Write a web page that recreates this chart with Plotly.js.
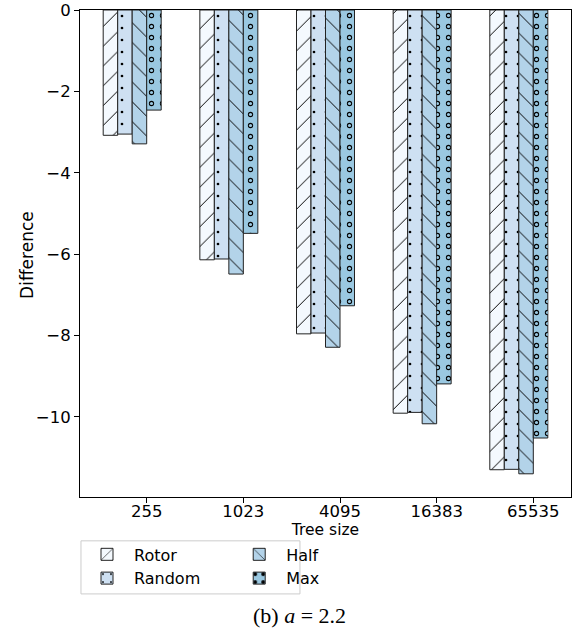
<!DOCTYPE html>
<html>
<head>
<meta charset="utf-8">
<script src="https://cdn.plot.ly/plotly-3.0.1.min.js"></script>
<style>html,body{margin:0;padding:0;background:#fff;}#chart{width:576px;height:635px;}</style>
</head>
<body>
<div id="chart"></div>
<script>
// ---- data ----
const treeSizes = ['255', '1023', '4095', '16383', '65535'];
const groupIndex = [0, 1, 2, 3, 4];
const rotor  = [-3.08, -6.14, -7.96, -9.91, -11.30];
const random = [-3.05, -6.12, -7.94, -9.89, -11.29];
const half   = [-3.29, -6.49, -8.29, -10.17, -11.40];
const maxv   = [-2.46, -5.49, -7.27, -9.19, -10.52];
const yTicks = [0, -2, -4, -6, -8, -10];

const FONT = 'DejaVu Sans';
const barW = 0.15;
const edge = {color: '#222', width: 1};

function barTrace(name, y, off, fill, shape, size, solidity, legend) {
  return {
    type: 'bar', name: name, x: groupIndex, y: y,
    width: barW, offset: off,
    legend: legend,
    marker: {
      color: fill, line: edge,
      pattern: {shape: shape, size: size, solidity: solidity, fgcolor: '#000', bgcolor: fill, fillmode: 'replace'}
    },
    hoverinfo: 'skip'
  };
}

const traces = [
  barTrace('Rotor',  rotor,  -0.45, '#f4f9fe', '/',  14, 0.07, 'legend'),
  barTrace('Random', random, -0.30, '#cee0f2', '.',  12, 0.04, 'legend'),
  barTrace('Half',   half,   -0.15, '#b3d3e9', '\\', 14, 0.07, 'legend2'),
  barTrace('Max',    maxv,    0.00, '#9ac8e1', '.',  11, 0.18, 'legend2'),
  // inner fill of the Max rings (turns the dots into hollow circles)
  {
    type: 'bar', name: 'Max-inner', x: groupIndex, y: maxv, width: barW, offset: 0.0,
    showlegend: false, hoverinfo: 'skip',
    marker: {color: 'rgba(0,0,0,0)', line: {width: 0},
      pattern: {shape: '.', size: 11, solidity: 0.065, fgcolor: '#9ac8e1', bgcolor: 'rgba(0,0,0,0)', fillmode: 'replace'}}
  }
];

const layout = {
  width: 576, height: 635,
  margin: {l: 80, r: 5, t: 10, b: 138},
  paper_bgcolor: '#fff', plot_bgcolor: '#fff',
  font: {family: FONT, size: 16.5, color: '#000'},
  barmode: 'overlay',
  xaxis: {
    range: [-0.69, 4.39],
    tickmode: 'array', tickvals: groupIndex, ticktext: treeSizes,
    showline: true, linecolor: '#000', linewidth: 1, mirror: true,
    ticks: 'outside', ticklen: 5, tickcolor: '#000',
    ticklabelstandoff: -6,
    showgrid: false, zeroline: false,
    tickfont: {family: FONT, size: 16.5},
    title: {text: 'Tree size', font: {family: FONT, size: 15.5}, standoff: 0}
  },
  yaxis: {
    range: [-11.97, 0],
    tickmode: 'array', tickvals: yTicks,
    showline: true, linecolor: '#000', linewidth: 1, mirror: true,
    ticks: 'outside', ticklen: 5, tickcolor: '#000',
    showgrid: false, zeroline: false,
    tickfont: {family: FONT, size: 16.5}
  },
  legend: {
    x: 0.0, xanchor: 'left', y: -0.083, yanchor: 'top',
    orientation: 'v', bgcolor: 'rgba(0,0,0,0)', borderwidth: 0,
    font: {family: FONT, size: 16}, itemwidth: 44
  },
  legend2: {
    x: 0.31, xanchor: 'left', y: -0.083, yanchor: 'top',
    orientation: 'v', bgcolor: 'rgba(0,0,0,0)', borderwidth: 0,
    font: {family: FONT, size: 16}, itemwidth: 44
  },
  shapes: [
    {type: 'rect', xref: 'paper', yref: 'paper',
     x0: 0.002, x1: 0.448, y0: -0.199, y1: -0.090,
     line: {color: '#cccccc', width: 1}, fillcolor: 'rgba(255,255,255,0.8)', layer: 'below'}
  ],
  annotations: [
    {text: 'Difference', xref: 'paper', yref: 'paper', x: -0.108, y: 0.497,
     textangle: -90, xanchor: 'center', yanchor: 'middle', showarrow: false,
     font: {family: FONT, size: 17, color: '#000'}},
    {text: '(b) <i>a</i> = 2.2', xref: 'paper', yref: 'paper', x: 0.448, y: -0.243,
     xanchor: 'center', yanchor: 'middle', showarrow: false,
     font: {family: 'Liberation Serif', size: 22, color: '#000'}}
  ]
};

Plotly.newPlot('chart', traces, layout, {displayModeBar: false, staticPlot: true});
</script>
</body>
</html>
